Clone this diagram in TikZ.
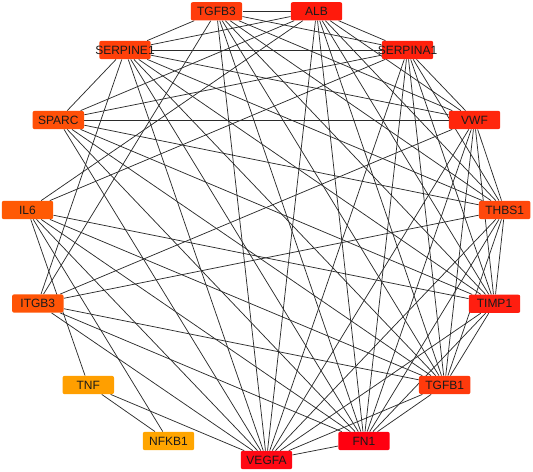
\documentclass[tikz,border=0pt]{standalone}
\usepackage{fontspec}
\usepackage{tikz}
\newfontfamily\genefont{Liberation Sans}
\pgfdeclarelayer{background}
\pgfsetlayers{background,main}
\definecolor{ink}{HTML}{1A1A1A}
\definecolor{edge}{HTML}{2B2B2B}
\definecolor{cTGFB3}{HTML}{FF3C0C}
\definecolor{cALB}{HTML}{FF1A0C}
\definecolor{cSERPINA1}{HTML}{FF200C}
\definecolor{cVWF}{HTML}{FF260C}
\definecolor{cTHBS1}{HTML}{FF480C}
\definecolor{cTIMP1}{HTML}{FF1E10}
\definecolor{cTGFB1}{HTML}{FF3A0C}
\definecolor{cFN1}{HTML}{FF0010}
\definecolor{cVEGFA}{HTML}{FF0814}
\definecolor{cNFKB1}{HTML}{FFA500}
\definecolor{cTNF}{HTML}{FF9F00}
\definecolor{cITGB3}{HTML}{FF5406}
\definecolor{cIL6}{HTML}{FF5A04}
\definecolor{cSPARC}{HTML}{FF5008}
\definecolor{cSERPINE1}{HTML}{FF400A}

\begin{document}
\begin{tikzpicture}[x=0.75pt, y=-0.75pt,
  gene/.style={rectangle, rounded corners=1.5pt, minimum width=38.6pt, minimum height=13.7pt,
    inner sep=0pt, text=ink, font=\genefont\fontsize{9}{10}\selectfont},
  link/.style={draw=edge, line width=0.55pt}]
  \useasboundingbox (0,0) rectangle (533,472);

  % genes round the circle, clockwise from the top
  \node[gene, fill=cTGFB3] (TGFB3) at (216.5,11.3) {\makebox[0pt]{TGFB3}};
  \node[gene, fill=cALB] (ALB) at (316.5,11.3) {\makebox[0pt]{ALB}};
  \node[gene, fill=cSERPINA1] (SERPINA1) at (407.5,50) {\makebox[0pt]{SERPINA1}};
  \node[gene, fill=cVWF] (VWF) at (474.5,120) {\makebox[0pt]{VWF}};
  \node[gene, fill=cTHBS1] (THBS1) at (504.7,210) {\makebox[0pt]{THBS1}};
  \node[gene, fill=cTIMP1] (TIMP1) at (494.5,303.8) {\makebox[0pt]{TIMP1}};
  \node[gene, fill=cTGFB1] (TGFB1) at (444.7,385) {\makebox[0pt]{TGFB1}};
  \node[gene, fill=cFN1] (FN1) at (364,441) {\makebox[0pt]{FN1}};
  \node[gene, fill=cVEGFA] (VEGFA) at (266.5,460) {\makebox[0pt]{VEGFA}};
  \node[gene, fill=cNFKB1] (NFKB1) at (168.5,441) {\makebox[0pt]{NFKB1}};
  \node[gene, fill=cTNF] (TNF) at (88.3,385) {\makebox[0pt]{TNF}};
  \node[gene, fill=cITGB3] (ITGB3) at (37.8,303.5) {\makebox[0pt]{ITGB3}};
  \node[gene, fill=cIL6] (IL6) at (27.5,210) {\makebox[0pt]{IL6}};
  \node[gene, fill=cSPARC] (SPARC) at (58.3,120) {\makebox[0pt]{SPARC}};
  \node[gene, fill=cSERPINE1] (SERPINE1) at (125,50) {\makebox[0pt]{SERPINE1}};

  % interactions
  \begin{pgfonlayer}{background}
    \foreach \a/\b in {
      TGFB3/ALB, TGFB3/SERPINE1, TGFB3/SERPINA1, TGFB3/VWF, TGFB3/THBS1,
      TGFB3/TIMP1, TGFB3/TGFB1, TGFB3/FN1, TGFB3/VEGFA, TGFB3/ITGB3,
      ALB/SERPINE1, ALB/SERPINA1, ALB/VWF, ALB/THBS1, ALB/TIMP1,
      ALB/TGFB1, ALB/FN1, ALB/VEGFA, ALB/SPARC, ALB/IL6,
      SERPINA1/SERPINE1, SERPINA1/VWF, SERPINA1/THBS1, SERPINA1/TIMP1, SERPINA1/TGFB1,
      SERPINA1/FN1, SERPINA1/VEGFA, SERPINA1/SPARC, SERPINA1/IL6,
      VWF/SERPINE1, VWF/THBS1, VWF/TIMP1, VWF/TGFB1, VWF/FN1,
      VWF/VEGFA, VWF/SPARC, VWF/ITGB3,
      THBS1/SERPINE1, THBS1/TIMP1, THBS1/TGFB1, THBS1/FN1, THBS1/VEGFA,
      THBS1/SPARC, THBS1/ITGB3,
      TIMP1/SERPINE1, TIMP1/TGFB1, TIMP1/FN1, TIMP1/VEGFA, TIMP1/SPARC, TIMP1/IL6,
      TGFB1/SERPINE1, TGFB1/FN1, TGFB1/VEGFA, TGFB1/SPARC, TGFB1/IL6, TGFB1/ITGB3,
      FN1/SERPINE1, FN1/VEGFA, FN1/SPARC, FN1/IL6, FN1/ITGB3,
      VEGFA/SERPINE1, VEGFA/SPARC, VEGFA/IL6, VEGFA/ITGB3, VEGFA/TNF,
      NFKB1/IL6, NFKB1/TNF, TNF/IL6, ITGB3/SERPINE1, SPARC/SERPINE1}
      \draw[link] (\a) -- (\b);
  \end{pgfonlayer}
\end{tikzpicture}
\end{document}
